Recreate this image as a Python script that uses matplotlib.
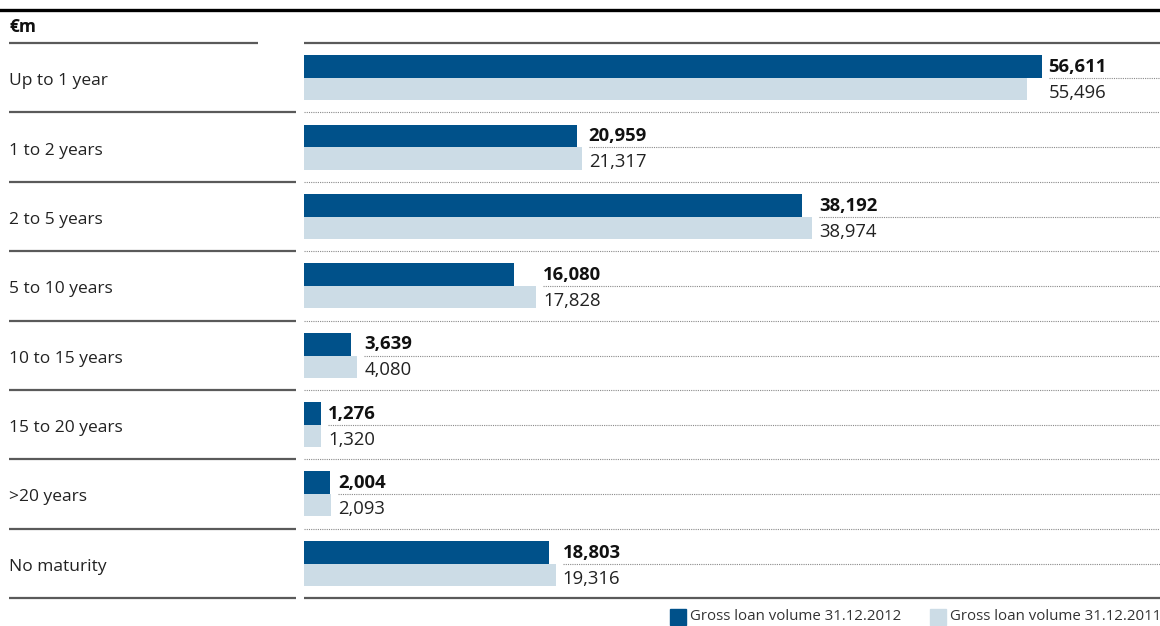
import matplotlib.pyplot as plt
import matplotlib.transforms as mtransforms
from matplotlib.lines import Line2D
from matplotlib.patches import Rectangle

plt.rcParams['font.family'] = ['Open Sans', 'DejaVu Sans']

# --- data ---
categories = ["Up to 1 year", "1 to 2 years", "2 to 5 years", "5 to 10 years",
              "10 to 15 years", "15 to 20 years", ">20 years", "No maturity"]
vol_2012 = [56611, 20959, 38192, 16080, 3639, 1276, 2004, 18803]
vol_2011 = [55496, 21317, 38974, 17828, 4080, 1320, 2093, 19316]
label_2012 = "Gross loan volume 31.12.2012"
label_2011 = "Gross loan volume 31.12.2011"
unit_label = "€m"

dark = "#00518A"
light = "#CCDCE6"
sep_col = "#5a5a5a"
dot_col = "#8a8a8a"

W, H = 1160, 626
fig = plt.figure(figsize=(W / 100, H / 100), dpi=100)

# bar axes: x 304..1160 px, y 43..598 px
top_px, bot_px = 43, 598
ax = fig.add_axes([304 / W, 1 - bot_px / H, (W - 304) / W, (bot_px - top_px) / H])
xmax = 65700
ax.set_xlim(0, xmax)
n = len(categories)
ax.set_ylim(n, 0)
ax.axis("off")

px_per_unit = (W - 304) / xmax
off = 7 / px_per_unit

for i, (a, b) in enumerate(zip(vol_2012, vol_2011)):
    ax.barh(i + 0.34, a, height=0.33, color=dark, left=0)
    ax.barh(i + 0.665, b, height=0.32, color=light, left=0)
    lx = max(a, b) + off
    ax.text(lx, i + 0.345, f"{a:,}", fontsize=13.3, fontweight="bold",
            va="center", ha="left", color="#111")
    ax.text(lx, i + 0.72, f"{b:,}", fontsize=13.3, va="center", ha="left", color="#222")
    ax.plot([lx, xmax], [i + 0.505, i + 0.505], color=dot_col, lw=0.8,
            linestyle=(0, (1, 1)), clip_on=False)

# row separators
for i in range(1, n):
    ax.plot([0, xmax], [i, i], color=dot_col, lw=0.8, linestyle=(0, (1, 1)), clip_on=False)
ax.plot([0, xmax], [0, 0], color=sep_col, lw=1.6, clip_on=False, solid_capstyle="butt")
ax.plot([0, xmax], [n, n], color=sep_col, lw=1.6, clip_on=False, solid_capstyle="butt")

# left column: labels and separators, in figure x / data y
blend = mtransforms.blended_transform_factory(fig.transFigure, ax.transData)
for i, cat in enumerate(categories):
    fig.text(9 / W, i + 0.55, cat, transform=blend, fontsize=12.5, va="center",
             ha="left", color="#222")
for i in range(n + 1):
    x1 = 258 / W if i == 0 else 296 / W
    fig.add_artist(Line2D([9 / W, x1], [i, i], transform=blend, color=sep_col,
                          lw=1.6, solid_capstyle="butt"))

# header
fig.add_artist(Line2D([0, 1], [1 - 10 / H, 1 - 10 / H], color="black", lw=2.4))
fig.text(9 / W, 1 - 27 / H, unit_label, fontsize=12.5, fontweight="bold",
         va="center", ha="left", color="#111")

# legend
ly = 1 - 617 / H
for x0, col, lab in [(670, dark, label_2012), (930, light, label_2011)]:
    fig.add_artist(Rectangle((x0 / W, 1 - 625 / H), 16 / W, 16 / H,
                             transform=fig.transFigure, color=col))
    fig.text((x0 + 20) / W, ly, lab, fontsize=10.8, va="center", ha="left", color="#333")

fig.savefig("out.png", dpi=100)
